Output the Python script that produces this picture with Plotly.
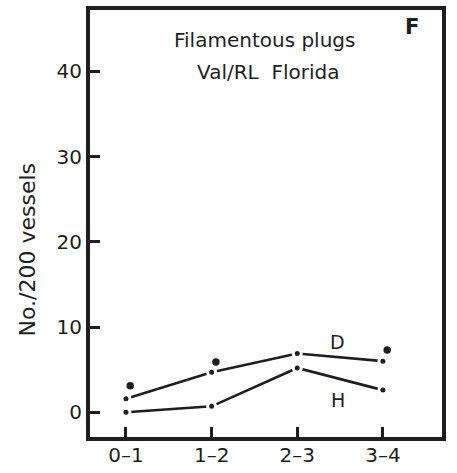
import plotly.graph_objects as go

# Age classes (years) on the x axis
age_classes = ["0–1", "1–2", "2–3", "3–4"]

# Filamentous plugs per 200 vessels
d_values = [1.6, 4.7, 6.9, 6.0]
h_values = [0.0, 0.7, 5.2, 2.6]
extra_values = [3.1, 5.9, 7.3]
extra_classes = ["0–1", "1–2", "3–4"]

y_ticks = [0, 10, 20, 30, 40]

ink = "#1e1e1e"
font_family = "DejaVu Sans, Liberation Sans, sans-serif"

xpos = {c: i for i, c in enumerate(age_classes)}

fig = go.Figure()

# Connected series with small gaps around each point
for vals in (d_values, h_values):
    fig.add_trace(go.Scatter(
        x=[xpos[c] for c in age_classes], y=vals,
        mode="lines+markers",
        line=dict(color=ink, width=2.6),
        marker=dict(color=ink, size=8, line=dict(color="white", width=3)),
        showlegend=False, hoverinfo="skip",
    ))

# Unconnected points, set slightly to the right of each class
fig.add_trace(go.Scatter(
    x=[xpos[c] + 0.05 for c in extra_classes], y=extra_values,
    mode="markers",
    marker=dict(color=ink, size=7.5),
    showlegend=False, hoverinfo="skip",
))


def note(text, x, y, size, xref="x", yref="y", angle=0):
    fig.add_annotation(x=x, y=y, xref=xref, yref=yref, text=text,
                       showarrow=False, xanchor="center", yanchor="middle",
                       textangle=angle,
                       font=dict(size=size, color=ink, family=font_family))


note("D", 2.47, 8.3, 19)
note("H", 2.47, 1.5, 19)
note("Filamentous plugs", 0.495, 0.93, 20, "paper", "paper")
note("Val/RL&nbsp;&nbsp;Florida", 0.505, 0.855, 20, "paper", "paper")
note("<b>F</b>", 0.915, 0.96, 21, "paper", "paper")
# y-axis title, set a little below the middle of the axis
note("No./200 vessels", -0.178, 0.44, 22, "paper", "paper", angle=-90)

fig.update_xaxes(
    range=[-0.42, 3.69],
    tickvals=list(range(len(age_classes))), ticktext=age_classes,
    ticks="inside", ticklen=10, tickwidth=2.5, tickcolor=ink,
    showline=True, linewidth=4, linecolor=ink, mirror=True,
    showgrid=False, zeroline=False, automargin=False,
    tickfont=dict(size=20, color=ink, family=font_family),
    ticklabelstandoff=-3,
)
fig.update_yaxes(
    range=[-2.9, 47.2],
    tickvals=y_ticks,
    ticks="inside", ticklen=10, tickwidth=2.5, tickcolor=ink,
    showline=True, linewidth=4, linecolor=ink, mirror=True,
    showgrid=False, zeroline=False, automargin=False,
    tickfont=dict(size=20, color=ink, family=font_family),
)

fig.update_layout(
    width=457, height=473,
    margin=dict(l=90, r=15, t=10, b=36),
    paper_bgcolor="white", plot_bgcolor="white",
)

fig.write_html("out.html")
